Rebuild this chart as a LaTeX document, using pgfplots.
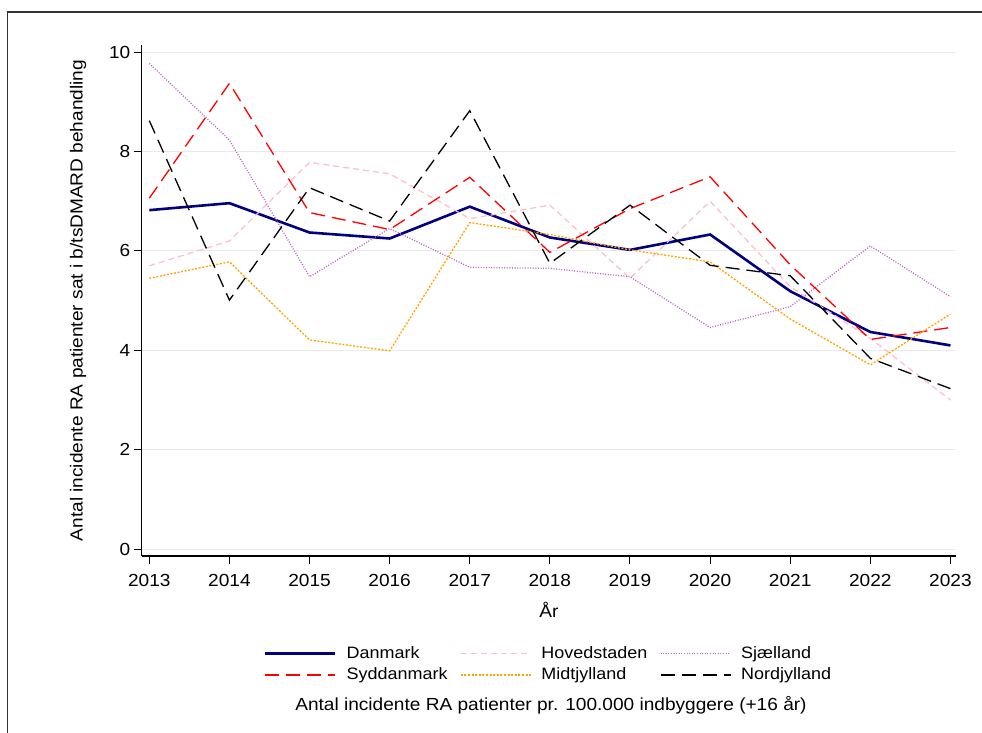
\documentclass[border=0pt]{standalone}
\usepackage{fontspec}
\setmainfont{Liberation Sans}[FakeStretch=1.09]
\usepackage{pgfplots}
\pgfplotsset{compat=1.18}
\definecolor{navyc}{RGB}{0,0,128}
\definecolor{pinkc}{RGB}{255,192,203}
\definecolor{orchidc}{RGB}{190,100,200}
\definecolor{redc}{RGB}{255,0,0}
\definecolor{orangec}{RGB}{255,165,0}
\definecolor{gridc}{RGB}{234,234,234}
\definecolor{framec}{RGB}{50,50,50}
\begin{document}
\begin{tikzpicture}[x=1pt,y=1pt,font=\fontsize{17.5}{20}\selectfont]
\useasboundingbox (0,0) rectangle (982,733);
\draw[line width=1.6pt,color=framec] (7.5,-5) -- (7.5,721) -- (990,721);
\begin{axis}[
  at={(141.7pt,177pt)}, anchor=south west, scale only axis,
  width=814.3pt, height=511pt,
  xmin=2012.905, xmax=2023.069, ymin=-0.135, ymax=10.141,
  axis lines*=left, axis line style={-,line width=1.2pt,black},
  xtick={2013,...,2023}, ytick={0,2,...,10},
  /pgf/number format/assume math mode=true,
  xticklabel style={/pgf/number format/1000 sep={},yshift=-7pt},
  tick label style={font=\fontsize{17.5}{20}\selectfont},
  tick align=outside, major tick length=8pt,
  tick style={black,line width=1pt},
  ymajorgrids, grid style={color=gridc,line width=1pt},
  xlabel={År},
  ylabel={Antal incidente RA patienter sat i b/tsDMARD behandling},
  every axis x label/.style={at={(axis description cs:0.5,-0.1057)},anchor=center,font=\fontsize{17.5}{20}\selectfont},
  every axis y label/.style={at={(axis description cs:-0.0782,0.5)},anchor=center,rotate=90,font=\fontsize{17.5}{20}\selectfont},
  legend columns=3,
  legend style={at={(axis description cs:0.1500,-0.175)},anchor=north west,draw=none,fill=none,inner sep=0pt,
    font=\fontsize{16.5}{20}\selectfont,
    nodes={inner sep=0pt,text height=12.5pt,text depth=3.5pt},
    row sep=5.5pt,
    /tikz/every odd column/.append style={column sep=10pt},
    /tikz/every even column/.append style={column sep=12.5pt}},
  legend cell align=left,
  legend image code/.code={\draw[#1] (0pt,0pt) -- (70pt,0pt);},
]
\addplot[navyc,line width=2.6pt] coordinates {
 (2013,6.82) (2014,6.96) (2015,6.37) (2016,6.25) (2017,6.89) (2018,6.27)
 (2019,6.02) (2020,6.33) (2021,5.19) (2022,4.37) (2023,4.10)};
\addlegendentry{Danmark}
\addplot[pinkc,line width=1.3pt,dash pattern=on 6pt off 4pt] coordinates {
 (2013,5.70) (2014,6.20) (2015,7.78) (2016,7.55) (2017,6.65) (2018,6.92)
 (2019,5.45) (2020,7.00) (2021,5.28) (2022,4.24) (2023,3.00)};
\addlegendentry{Hovedstaden}
\addplot[orchidc,line width=1.3pt,dash pattern=on 1pt off 1.6pt] coordinates {
 (2013,9.77) (2014,8.23) (2015,5.48) (2016,6.45) (2017,5.67) (2018,5.65)
 (2019,5.48) (2020,4.46) (2021,4.88) (2022,6.10) (2023,5.08)};
\addlegendentry{Sjælland}
\addplot[redc,line width=1.3pt,dash pattern=on 14pt off 7pt] coordinates {
 (2013,7.06) (2014,9.37) (2015,6.77) (2016,6.43) (2017,7.48) (2018,5.97)
 (2019,6.85) (2020,7.49) (2021,5.72) (2022,4.22) (2023,4.46)};
\addlegendentry{Syddanmark}
\addplot[orangec,line width=1.3pt,dash pattern=on 2pt off 1.6pt] coordinates {
 (2013,5.45) (2014,5.78) (2015,4.21) (2016,3.99) (2017,6.57) (2018,6.33)
 (2019,6.02) (2020,5.78) (2021,4.63) (2022,3.71) (2023,4.73)};
\addlegendentry{Midtjylland}
\addplot[black,line width=1.3pt,dash pattern=on 14pt off 7pt] coordinates {
 (2013,8.62) (2014,5.01) (2015,7.27) (2016,6.60) (2017,8.82) (2018,5.75)
 (2019,6.92) (2020,5.71) (2021,5.50) (2022,3.84) (2023,3.23)};
\addlegendentry{Nordjylland}
\end{axis}
\node[anchor=center] at (551,28) {Antal incidente RA patienter pr. 100.000 indbyggere (+16 år)};
\end{tikzpicture}
\end{document}
